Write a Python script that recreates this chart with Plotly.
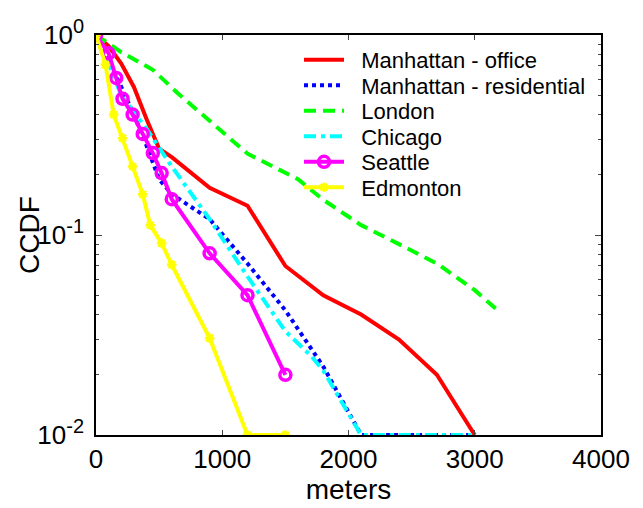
import plotly.graph_objects as go

# ---- data ----
office_x = [0, 100, 200, 300, 400, 500, 600, 900, 1200, 1500, 1800, 2100, 2400, 2700, 3000]
office_y = [1, 0.88, 0.72, 0.55, 0.38, 0.27, 0.245, 0.172, 0.14, 0.07, 0.05, 0.04, 0.03, 0.02, 0.01]

resid_x = [0, 100, 200, 300, 400, 500, 600, 900, 1200, 1500, 1800, 2100, 3000]
resid_y = [1, 0.75, 0.55, 0.4, 0.28, 0.19, 0.16, 0.12, 0.072, 0.042, 0.022, 0.01, 0.01]

london_x = [0, 200, 450, 650, 1200, 1600, 1800, 2100, 2400, 2700, 3000, 3200]
london_y = [1, 0.82, 0.67, 0.51, 0.255, 0.19, 0.15, 0.112, 0.09, 0.072, 0.053, 0.041]

chicago_x = [0, 100, 200, 400, 600, 900, 1200, 1500, 1700, 1800, 2100, 3000]
chicago_y = [1, 0.72, 0.5, 0.34, 0.22, 0.12, 0.062, 0.033, 0.025, 0.021, 0.01, 0.01]

seattle_x = [0, 100, 160, 210, 290, 370, 450, 520, 600, 900, 1200, 1500]
seattle_y = [1, 0.81, 0.61, 0.48, 0.40, 0.32, 0.257, 0.204, 0.151, 0.081, 0.05, 0.02]

edmonton_x = [0, 75, 140, 210, 290, 370, 430, 520, 600, 900, 1200, 1500]
edmonton_y = [1, 0.71, 0.40, 0.305, 0.22, 0.16, 0.112, 0.091, 0.071, 0.0305, 0.01, 0.01]

series_names = ["Manhattan - office", "Manhattan - residential", "London",
                "Chicago", "Seattle", "Edmonton"]

x_ticks = [0, 1000, 2000, 3000, 4000]
y_ticks = [0.01, 0.1, 1]
y_exponents = ["-2", "-1", "0"]
y_minor = [k * 0.01 for k in range(2, 10)] + [k * 0.1 for k in range(2, 10)]

font_family = "Liberation Sans, Arial, sans-serif"
LW = 4
PAD = "\u00a0\u00a0"  # small gap between legend line sample and its text

y_ticktext = ["10<sup><span style='font-size:20px'>%s</span></sup>" % e for e in y_exponents]

fig = go.Figure()
fig.add_trace(go.Scatter(x=office_x, y=office_y, mode="lines", name=PAD + series_names[0],
                         legend="legend", line=dict(color="#ff0000", width=LW)))
fig.add_trace(go.Scatter(x=resid_x, y=resid_y, mode="lines", name=PAD + series_names[1],
                         legend="legend2", line=dict(color="#0000ff", width=LW, dash="4px,4px")))
fig.add_trace(go.Scatter(x=london_x, y=london_y, mode="lines", name=PAD + series_names[2],
                         legend="legend3", line=dict(color="#00ff00", width=LW, dash="12px,7px")))
fig.add_trace(go.Scatter(x=chicago_x, y=chicago_y, mode="lines", name=PAD + series_names[3],
                         legend="legend4", line=dict(color="#00ffff", width=LW, dash="12px,5px,4px,5px")))
fig.add_trace(go.Scatter(x=seattle_x, y=seattle_y, mode="lines+markers", name=PAD + series_names[4],
                         legend="legend5", line=dict(color="#ff00ff", width=LW),
                         marker=dict(symbol="circle-open", size=11, color="#ff00ff",
                                     line=dict(width=3.5, color="#ff00ff"))))
fig.add_trace(go.Scatter(x=edmonton_x, y=edmonton_y, mode="lines+markers", name=PAD + series_names[5],
                         legend="legend6", line=dict(color="#ffff00", width=LW),
                         marker=dict(symbol="asterisk-open", size=8, color="#ffff00",
                                     line=dict(width=2.5, color="#ffff00"))))

# plot area: x 96..601, y 35..435 (pixels)
row_centers = [60, 85.5, 111, 136.5, 162, 187.5]
legend_x = (299 - 96) / 505.0
legend_common = dict(x=legend_x, xanchor="left", yanchor="middle",
                     bgcolor="rgba(0,0,0,0)", borderwidth=0,
                     font=dict(size=22, family=font_family), itemwidth=40)
legends = {}
for i, yc in enumerate(row_centers):
    key = "legend" if i == 0 else "legend%d" % (i + 1)
    legends[key] = dict(legend_common, y=(435 - yc) / 400.0)

fig.update_layout(
    width=643, height=508,
    margin=dict(l=96, r=42, t=35, b=73, autoexpand=False),
    paper_bgcolor="white", plot_bgcolor="white",
    font=dict(family=font_family, color="black", size=26),
    showlegend=True,
    xaxis=dict(range=[0, 4000], tickvals=x_ticks, ticks="inside", ticklen=5,
               showline=True, linecolor="black", linewidth=1.5, mirror="ticks",
               showgrid=False, zeroline=False,
               tickfont=dict(size=26),
               title=dict(text="meters", font=dict(size=28), standoff=6)),
    yaxis=dict(type="log", range=[-2, 0], tickvals=y_ticks, ticktext=y_ticktext,
               ticks="inside", ticklen=6, ticklabelstandoff=5,
               showline=True, linecolor="black", linewidth=1.5, mirror="ticks",
               showgrid=False, zeroline=False,
               tickfont=dict(size=26),
               minor=dict(tickvals=y_minor, ticks="inside", ticklen=3, showgrid=False)),
    annotations=[dict(text="CCDF", x=(29 - 96) / 505.0, xref="paper", y=0.5, yref="paper",
                      showarrow=False, textangle=-90, font=dict(size=28),
                      xanchor="center", yanchor="middle")],
    **legends,
)

fig.write_html("out.html", config={"displayModeBar": False},
               post_script="document.body.style.margin='0px';document.body.style.overflow='hidden';")
